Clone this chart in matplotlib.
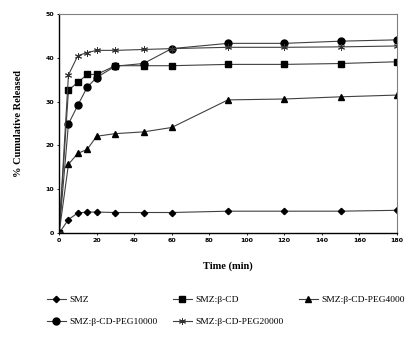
import matplotlib
matplotlib.use("Agg")
import matplotlib.pyplot as plt

# time points (min)
time = [0, 5, 10, 15, 20, 30, 45, 60, 90, 120, 150, 180]

# % cumulative released
smz = [0, 3.1, 4.6, 4.8, 4.8, 4.7, 4.7, 4.7, 5.0, 5.0, 5.0, 5.2]
smz_cd = [0, 32.6, 34.4, 36.2, 36.2, 38.2, 38.2, 38.2, 38.5, 38.5, 38.7, 39.1]
smz_peg4000 = [0, 15.7, 18.2, 19.1, 22.1, 22.7, 23.1, 24.1, 30.4, 30.6, 31.1, 31.5]
smz_peg10000 = [0, 24.9, 29.2, 33.3, 35.5, 38.1, 38.7, 42.1, 43.3, 43.3, 43.8, 44.1]
smz_peg20000 = [0, 36.1, 40.5, 41.2, 41.7, 41.7, 41.9, 42.1, 42.4, 42.4, 42.5, 42.7]

labels = ["SMZ", "SMZ:\u03b2-CD", "SMZ:\u03b2-CD-PEG4000",
          "SMZ:\u03b2-CD-PEG10000", "SMZ:\u03b2-CD-PEG20000"]

fig = plt.figure(figsize=(4.16, 3.5), dpi=100)
ax = fig.add_axes([0.142, 0.334, 0.812, 0.626])

lc = "#404040"
ax.plot(time, smz, color=lc, lw=0.8, marker="D", ms=3.2, mfc="black", mec="black", label=labels[0])
ax.plot(time, smz_cd, color=lc, lw=0.8, marker="s", ms=5, mfc="black", mec="black", label=labels[1])
ax.plot(time, smz_peg4000, color=lc, lw=0.8, marker="^", ms=4.5, mfc="black", mec="black", label=labels[2])
ax.plot(time, smz_peg10000, color=lc, lw=0.8, marker="o", ms=5, mfc="black", mec="black", label=labels[3])
ax.plot(time, smz_peg20000, color=lc, lw=0.8, marker=(6, 2, 0), ms=5, mfc="black", mec="#333333", mew=0.7, label=labels[4])

ax.set_xlim(0, 180)
ax.set_ylim(0, 50)
ax.set_xticks(range(0, 181, 20))
ax.set_yticks(range(0, 51, 10))
ax.tick_params(length=1.5, width=0.6, labelsize=4.5, pad=2)
for t in ax.get_xticklabels() + ax.get_yticklabels():
    t.set_fontweight("bold")
for s in ["left", "bottom"]:
    ax.spines[s].set_color("black")
    ax.spines[s].set_linewidth(1.0)
for s in ["top", "right"]:
    ax.spines[s].set_color("#808080")
    ax.spines[s].set_linewidth(0.8)

ax.set_xlabel("Time (min)", family="Liberation Serif", fontweight="bold", fontsize=7.5, labelpad=13)
ax.set_ylabel("% Cumulative Released", family="Liberation Serif", fontweight="bold", fontsize=7.5, labelpad=16)

# legend filled row by row: reorder for matplotlib's column-wise filling
handles, labs = ax.get_legend_handles_labels()
order = [0, 3, 1, 4, 2]
fig.legend([handles[i] for i in order], [labs[i] for i in order],
           loc="upper left", bbox_to_anchor=(0.092, 0.18), ncol=3, frameon=False,
           prop={"family": "Liberation Serif", "size": 6.8},
           handlelength=2.0, handletextpad=0.4, columnspacing=1.6, labelspacing=1.4)

fig.savefig("out.png", dpi=100)
